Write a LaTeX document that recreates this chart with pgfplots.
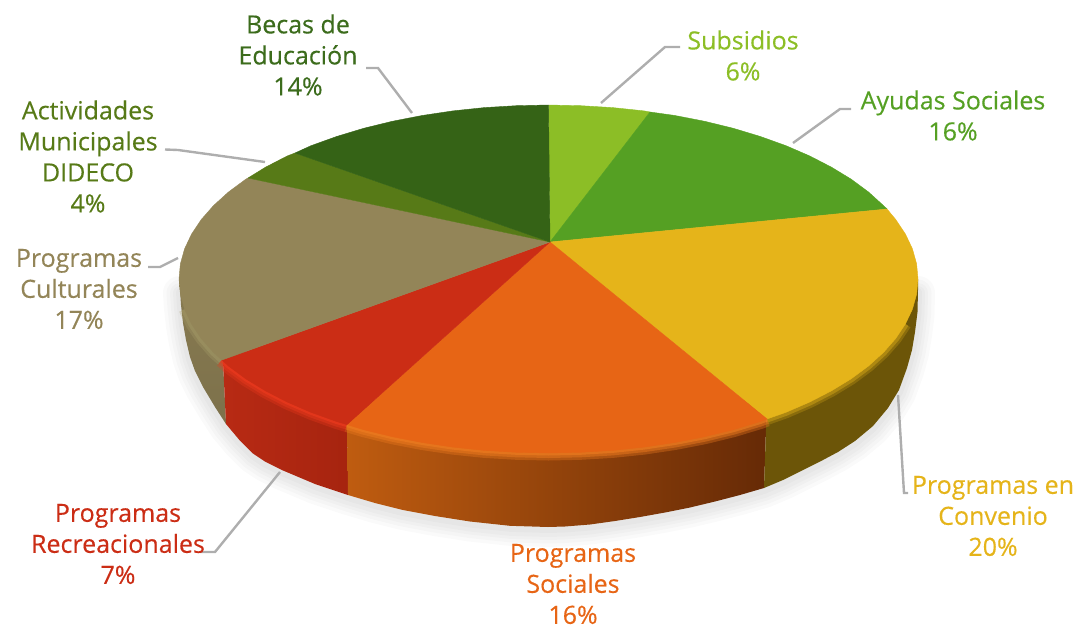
\documentclass[border=0pt]{standalone}
\usepackage{pgfplots}
\usepackage{pgfplotstable}
\usepackage{fontspec}
\pgfplotsset{compat=1.18}
\setmainfont{Open Sans}[FakeBold=0.35]

\definecolor{cSub}{HTML}{8CBE26}
\definecolor{cAyu}{HTML}{55A023}
\definecolor{cCon}{HTML}{E5B41A}
\definecolor{cSoc}{HTML}{E76515}
\definecolor{cRec}{HTML}{CB2D15}
\definecolor{cCul}{HTML}{938558}
\definecolor{cAct}{HTML}{577A17}
\definecolor{cBec}{HTML}{356316}
\definecolor{tBec}{HTML}{3C6C1C}
\definecolor{leader}{HTML}{AEAEAE}
% rim colours
\definecolor{rRecL}{HTML}{B82A14}
\definecolor{rRecR}{HTML}{A6240F}
\definecolor{rSocL}{HTML}{BF5C10}
\definecolor{rSocM}{HTML}{8F420E}
\definecolor{rSocR}{HTML}{662A06}
\definecolor{rCon}{HTML}{6C5508}
\definecolor{hCul}{HTML}{A89E6A}
\definecolor{hRec}{HTML}{EE3A1E}
\definecolor{hSoc}{HTML}{F07C20}

\tikzset{lab/.style={align=center, font=\fontsize{25}{31}\selectfont}}

% top face, traced in pixels (first row is the centre of the pie)
\pgfplotstableread{
x y
550 242
548.5 105
580.7 105.7
612.6 107.6
644.1 110.9
650 112
}\wSub
\pgfplotstableread{
x y
550 242
650 112
674.9 115.5
704.7 121.3
733.3 128.3
760.4 136.5
786.0 145.7
809.8 156.0
831.5 167.2
851.2 179.2
868.5 192.0
883.4 205.5
887 209
}\wAyu
\pgfplotstableread{
x y
550 242
887 209
895.7 219.5
905.4 234.0
912.4 248.8
916.6 263.8
918 279
916.6 294.2
912.4 309.2
905.4 324.0
895.7 338.5
883.4 352.5
868.5 366.0
851.2 378.8
831.5 390.8
809.8 402.0
786.0 412.3
767 419
}\wCon
\pgfplotstableread{
x y
550 242
767 419
760.4 421.5
733.3 429.7
704.7 436.7
674.9 442.5
644.1 447.1
612.6 450.4
580.7 452.3
548.5 453
516.3 452.3
484.4 450.4
452.9 447.1
422.1 442.5
392.3 436.7
363.7 429.7
347 424.6
}\wSoc
\pgfplotstableread{
x y
550 242
347 424.6
336.6 421.5
311.0 412.3
287.2 402.0
265.5 390.8
245.8 378.8
228.5 366.0
222 360
}\wRec
\pgfplotstableread{
x y
550 242
222 360
213.6 352.5
201.3 338.5
191.6 324.0
184.6 309.2
180.4 294.2
179 279
180.4 263.8
184.6 248.8
191.6 234.0
201.3 219.5
213.6 205.5
228.5 192.0
245.8 179.2
248 178
}\wCul
\pgfplotstableread{
x y
550 242
248 178
265.5 167.2
287.2 156.0
295 153
}\wAct
\pgfplotstableread{
x y
550 242
295 153
311.0 145.7
336.6 136.5
363.7 128.3
392.3 121.3
422.1 115.5
452.9 110.9
484.4 107.6
516.3 105.7
548.5 105
}\wBec

% front edge of the tan and yellow slices, for the bevel
\pgfplotstableread{
x y
222 360
213.6 352.5
201.3 338.5
191.6 324.0
184.6 309.2
}\bCul
\pgfplotstableread{
x y
905.4 324.0
895.7 338.5
883.4 352.5
868.5 366.0
851.2 378.8
831.5 390.8
809.8 402.0
786.0 412.3
767 419
}\bCon

% lower outline of the rim
\pgfplotstableread{
x y
918 290
917.5 312
915 332
912 350
907 368
899 390
888 408
873 426
855 441
838 452
823 460
803 470
783 480
764 488
740 495
715 501.5
690 507.5
665 512.5
640 517
615 521
590 524.5
565 526.5
548 527
510 525.8
470 521.5
435 516
403 510
375 503
348 495
315 484
283 470.5
265 461.5
253 453.5
239 439.5
226 424
215 407
203 387
195 371
190 357
186 340
183 323
181 305
180 290
}\rim

\begin{document}
\begin{tikzpicture}
\useasboundingbox (0,0) rectangle (1087pt,626pt);
\begin{axis}[
  at={(0,0)}, anchor=south west,
  width=1087pt, height=626pt, scale only axis,
  xmin=0, xmax=1087, ymin=0, ymax=626,
  y dir=reverse,
  hide axis,
  no markers,
]

% soft shadow under the pie
\addplot[black, opacity=0.018, line width=34pt, line cap=round, line join=round] table[y expr=\thisrow{y}+3] {\rim};
\addplot[black, opacity=0.018, line width=27pt, line cap=round, line join=round] table[y expr=\thisrow{y}+3] {\rim};
\addplot[black, opacity=0.018, line width=20pt, line cap=round, line join=round] table[y expr=\thisrow{y}+3] {\rim};
\addplot[black, opacity=0.02, line width=14pt, line cap=round, line join=round] table[y expr=\thisrow{y}+3] {\rim};
\addplot[black, opacity=0.02, line width=8pt, line cap=round, line join=round] table[y expr=\thisrow{y}+2] {\rim};

% rim
\addplot[draw=none, top color=cCul!92!black, bottom color=cCul!85!black] coordinates {
  (226,424) (215,407) (203,387) (195,371) (190,357) (186,340) (183,323) (181,305) (180,290) (179,279) (222,340)
} --cycle;
\addplot[draw=none, left color=rRecL, right color=rRecR] coordinates {
  (348,495) (315,484) (283,470.5) (265,461.5) (253,453.5) (239,439.5) (226,424) (222,340) (347,400)
} --cycle;
\addplot[draw=none, left color=rSocL, middle color=rSocM, right color=rSocR] coordinates {
  (764,488) (740,495) (715,501.5) (690,507.5) (665,512.5) (640,517) (615,521) (590,524.5) (565,526.5) (548,527)
  (510,525.8) (470,521.5) (435,516) (403,510) (375,503) (348,495) (347,400) (767,400)
} --cycle;
\addplot[draw=none, fill=rCon] coordinates {
  (918,279) (918,290) (917.5,312) (915,332) (912,350) (907,368) (899,390) (888,408) (873,426) (855,441)
  (838,452) (823,460) (803,470) (783,480) (764,488) (767,400)
} --cycle;

% bevel along the front edge
\addplot[hCul, line width=12pt, opacity=0.3] table {\bCul};
\addplot[hCul, line width=7pt, opacity=0.4] table {\bCul};
\addplot[hRec, line width=15pt, opacity=0.3, skip coords between index={0}{1}] table {\wRec};
\addplot[hRec, line width=10pt, opacity=0.4, skip coords between index={0}{1}] table {\wRec};
\addplot[hRec, line width=5pt, opacity=0.6, skip coords between index={0}{1}] table {\wRec};
\addplot[hSoc, line width=15pt, opacity=0.35, skip coords between index={0}{1}] table {\wSoc};
\addplot[hSoc, line width=10pt, opacity=0.45, skip coords between index={0}{1}] table {\wSoc};
\addplot[hSoc, line width=5pt, opacity=0.6, skip coords between index={0}{1}] table {\wSoc};
\addplot[cCon, line width=12pt, opacity=0.25] table {\bCon};
\addplot[cCon, line width=7pt, opacity=0.4] table {\bCon};

% top face
\addplot[fill=cSub, draw=cSub, line width=0.4pt] table {\wSub} --cycle;
\addplot[fill=cAyu, draw=cAyu, line width=0.4pt] table {\wAyu} --cycle;
\addplot[fill=cCon, draw=cCon, line width=0.4pt] table {\wCon} --cycle;
\addplot[fill=cSoc, draw=cSoc, line width=0.4pt] table {\wSoc} --cycle;
\addplot[fill=cRec, draw=cRec, line width=0.4pt] table {\wRec} --cycle;
\addplot[fill=cCul, draw=cCul, line width=0.4pt] table {\wCul} --cycle;
\addplot[fill=cAct, draw=cAct, line width=0.4pt] table {\wAct} --cycle;
\addplot[fill=cBec, draw=cBec, line width=0.4pt] table {\wBec} --cycle;

% leader lines
\addplot[leader, line width=2.4pt] coordinates {(601,103) (665,47) (680,47)};
\addplot[leader, line width=2.4pt] coordinates {(793,143) (840,109) (851,109)};
\addplot[leader, line width=2.4pt] coordinates {(898,395) (904,493) (908,493)};
\addplot[leader, line width=2.4pt] coordinates {(280,472) (215,552) (200,552)};
\addplot[leader, line width=2.4pt] coordinates {(178,258) (160,267) (148,267)};
\addplot[leader, line width=2.4pt] coordinates {(165,149.5) (178,150) (265,162)};
\addplot[leader, line width=2.4pt] coordinates {(412,113) (378,68) (366,68)};

% labels
\node[lab, text=tBec] at (axis cs:298,55) {Becas de\\Educación\\14\%};
\node[lab, text=cSub] at (axis cs:743,55.5) {Subsidios\\6\%};
\node[lab, text=cAyu] at (axis cs:953,115.5) {Ayudas Sociales\\16\%};
\node[lab, text=cAct] at (axis cs:88,156.5) {Actividades\\Municipales\\DIDECO\\4\%};
\node[lab, text=cCul] at (axis cs:79,289) {Programas\\Culturales\\17\%};
\node[lab, text=cCon] at (axis cs:993,516) {Programas en\\Convenio\\20\%};
\node[lab, text=cRec] at (axis cs:118,544) {Programas\\Recreacionales\\7\%};
\node[lab, text=cSoc] at (axis cs:573,584) {Programas\\Sociales\\16\%};
\end{axis}
\end{tikzpicture}
\end{document}
